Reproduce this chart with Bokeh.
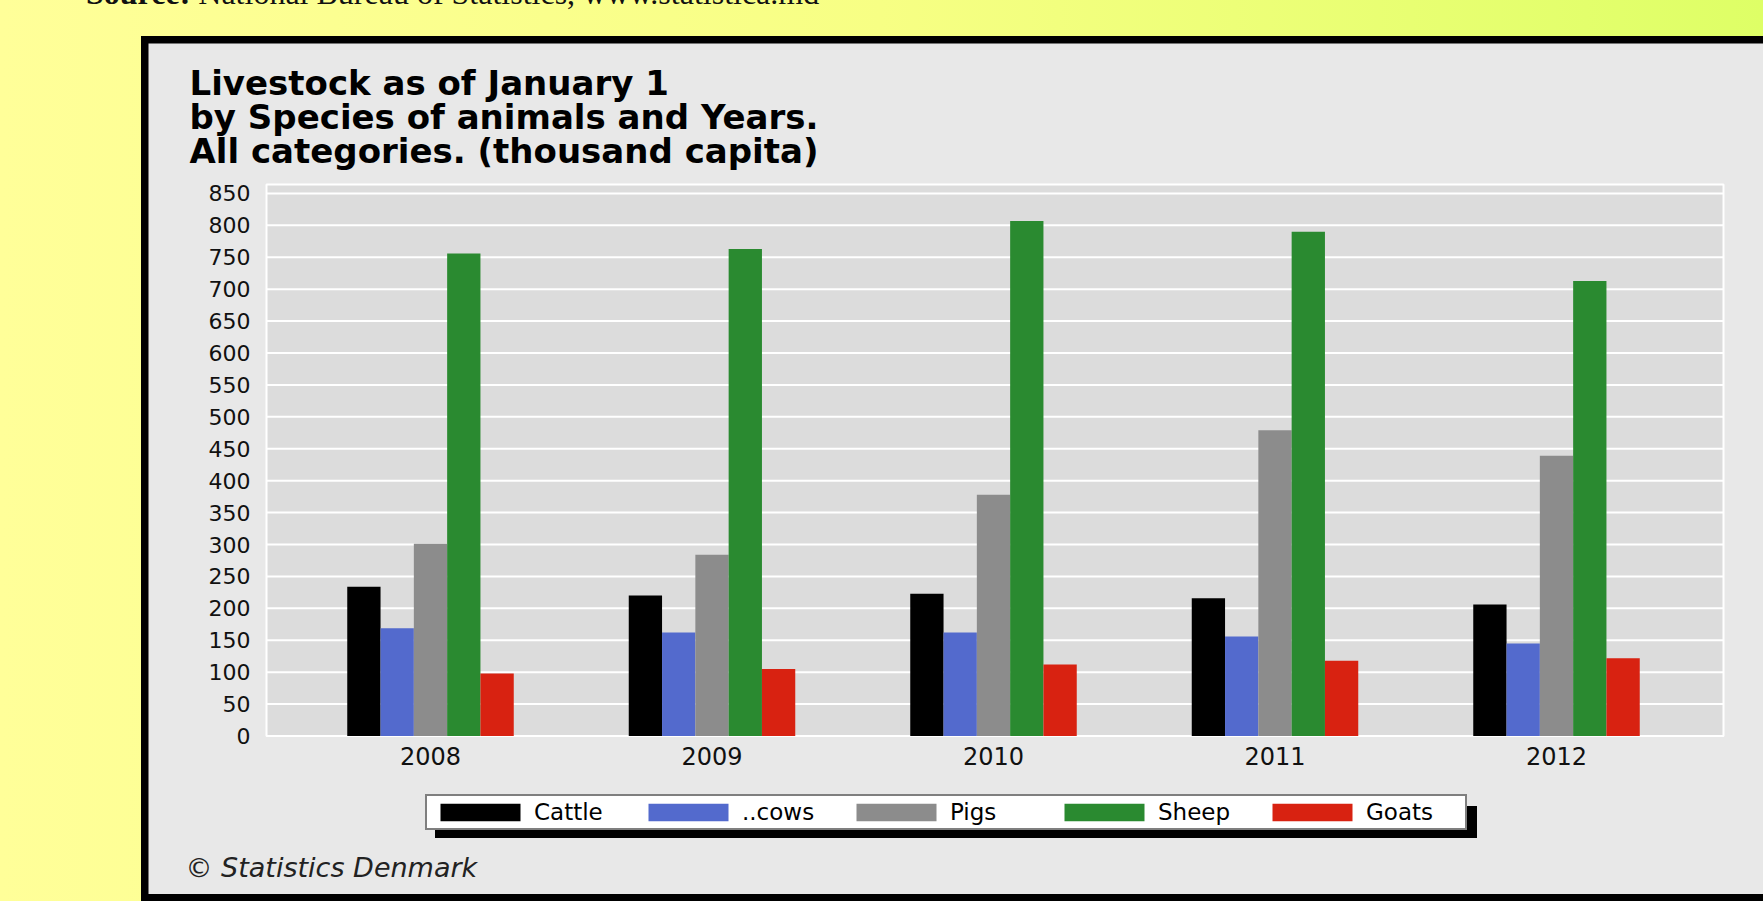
from bokeh.plotting import figure
from bokeh.models import (Range1d, FixedTicker, Legend, LegendItem, Label,
                          ColumnDataSource, Div)
from bokeh.transform import dodge
from bokeh.layouts import column
from bokeh.embed import file_html
from bokeh.resources import INLINE

# ---------------- data ----------------
years = [2008, 2009, 2010, 2011, 2012]
species = ["Cattle", "..cows", "Pigs", "Sheep", "Goats"]
cattle = [234, 220, 223, 216, 206]
cows = [169, 162, 162, 156, 145]
pigs = [301, 284, 378, 479, 439]
sheep = [756, 763, 807, 790, 713]
goats = [98, 105, 112, 118, 122]
y_ticks = [0, 50, 100, 150, 200, 250, 300, 350, 400, 450, 500, 550, 600, 650,
           700, 750, 800, 850]
title_lines = ["Livestock as of January 1",
               "by Species of animals and Years.",
               "All categories. (thousand capita)"]
footer_text = "\u00a9 Statistics Denmark"
source_html = "<b>Source:</b> National Bureau of Statistics, www.statistica.md"

colors = ["#000000", "#536ACD", "#8C8C8C", "#2A8A30", "#D82211"]
keys = ["cattle", "cows", "pigs", "sheep", "goats"]

src = ColumnDataSource(dict(year=years, cattle=cattle, cows=cows, pigs=pigs,
                            sheep=sheep, goats=goats))

FONT = "DejaVu Sans"

# ---------------- geometry (page pixels) ----------------
FIG_L, FIG_T, FIG_W, FIG_H = 148, 43, 1615, 851
X_PX = 281.5               # px per year
X0_PAGE = 430              # page x of first group centre
Y0_PAGE = 735.5            # page y of value 0
Y_PX = 551.5 / 864.0       # px per unit
PLOT_LEFT = years[0] - (430 - 266) / X_PX
PLOT_RIGHT = years[-1] + (1723 - 1556) / X_PX
PLOT_TOP = 864

x_start = years[0] - (X0_PAGE - FIG_L) / X_PX
x_end = x_start + FIG_W / X_PX
y_start = -(FIG_T + FIG_H - Y0_PAGE) / Y_PX
y_end = (Y0_PAGE - FIG_T) / Y_PX


def dx(page_x):
    return years[0] + (page_x - X0_PAGE) / X_PX


def dy(page_y):
    return (Y0_PAGE - page_y) / Y_PX


p = figure(x_range=Range1d(x_start, x_end), y_range=Range1d(y_start, y_end),
           width=FIG_W, height=FIG_H, output_backend="svg", toolbar_location=None,
           min_border=0, min_border_left=0, min_border_right=0,
           min_border_top=0, min_border_bottom=0,
           background_fill_color="#E8E8E8", border_fill_color="#E8E8E8",
           outline_line_color=None)

# plot area background + grid lines
p.quad(left=[PLOT_LEFT], right=[PLOT_RIGHT], bottom=[0], top=[PLOT_TOP],
       fill_color="#DCDCDC", line_color="white", line_width=2)
p.segment(x0=[PLOT_LEFT] * len(y_ticks), x1=[PLOT_RIGHT] * len(y_ticks),
          y0=y_ticks, y1=y_ticks, line_color="white", line_width=2)

bw = 33.3 / X_PX
offsets = [-2 * bw, -bw, 0, bw, 2 * bw]
renderers = []
for k, c, off in zip(keys, colors, offsets):
    r = p.vbar(x=dodge("year", off), top=k, width=bw,
               source=src, fill_color=c, line_color=None)
    renderers.append(r)

# axes
p.xgrid.visible = False
p.ygrid.visible = False
p.yaxis.ticker = FixedTicker(ticks=y_ticks)
p.xaxis.ticker = FixedTicker(ticks=years)
p.yaxis.fixed_location = PLOT_LEFT
p.xaxis.fixed_location = 0
for ax in (p.xaxis[0], p.yaxis[0]):
    ax.axis_line_color = None
    ax.major_tick_line_color = None
    ax.minor_tick_line_color = None
    ax.major_label_text_font = FONT
    ax.major_label_text_color = "#111111"
p.yaxis.major_label_text_font_size = "22px"
p.yaxis.major_label_standoff = 10
p.xaxis.major_label_text_font_size = "24px"
p.xaxis.major_label_standoff = 5

# legend + its shadow
LEG_X, LEG_B = 425, 830
common = dict(orientation="horizontal", glyph_width=100, glyph_height=22,
              label_width=96, label_standoff=4, spacing=8, padding=3,
              label_height=18, border_line_width=2,
              background_fill_alpha=1, label_text_font=FONT,
              label_text_font_size="23px")
dummy = p.vbar(x=[], top=[], width=0.1, fill_color="black", line_color=None)
shadow = Legend(items=[LegendItem(label=" ", renderers=[dummy]) for s in species],
                location=(LEG_X + 10 - FIG_L, FIG_T + FIG_H - (LEG_B + 8)),
                border_line_color="black", background_fill_color="black",
                label_text_color="black", **common)
p.add_layout(shadow)
legend = Legend(items=[LegendItem(label=s, renderers=[r])
                       for s, r in zip(species, renderers)],
                location=(LEG_X - FIG_L, FIG_T + FIG_H - LEG_B),
                border_line_color="black", background_fill_color="white",
                label_text_color="black", **common)
p.add_layout(legend)

# title lines
for txt, yy in zip(title_lines, [82, 116, 150]):
    p.add_layout(Label(x=dx(189), y=dy(yy), text=txt, text_font=FONT,
                       text_font_style="bold", text_font_size="34px",
                       text_baseline="middle", text_color="black"))

p.add_layout(Label(x=dx(185), y=dy(867), text=footer_text, text_font=FONT,
                   text_font_style="italic", text_font_size="27px",
                   text_baseline="middle", text_color="#222222"))

src_div = Div(text=source_html, width=1000, height=30, margin=(-22, 0, 0, 86),
              styles={"font-family": "Liberation Serif", "font-size": "32px",
                      "line-height": "30px", "color": "#111111",
                      "white-space": "nowrap"})
panel = column(p, margin=(28, 0, 0, 141),
               styles={"background-color": "black",
                       "padding": "7px 0px 7px 7px"})
page = column(src_div, panel, width=1763, height=901,
              styles={"background": "linear-gradient(to right, #FFFF99 0%, #F7FF84 50%, #DEFF66 100%)"})

open("out.html", "w").write(file_html(page, INLINE))
